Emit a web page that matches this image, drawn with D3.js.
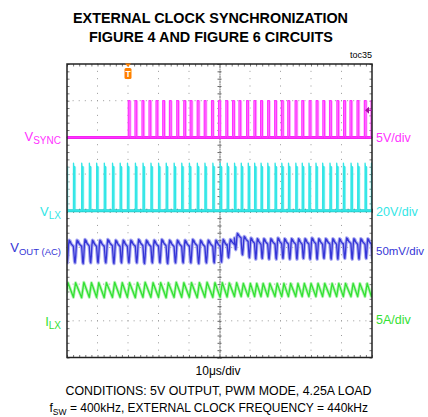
<!DOCTYPE html>
<html>
<head>
<meta charset="utf-8">
<script src="https://cdn.jsdelivr.net/npm/d3@7"></script>
<style>
body { margin: 0; background: #fff; }
text { font-family: "Liberation Sans", Arial, sans-serif; }
</style>
</head>
<body>
<script>
var w = 428
var h = 417

// ---- data ----
var labelMain = ["V", "V", "V", "I"]
var labelSub = ["SYNC", "LX", "OUT (AC)", "LX"]
var scaleLabels = ["5V/div", "20V/div", "50mV/div", "5A/div"]
var perDiv = [5, 20, 50, 5]          // V, V, mV, A per division
var zeroDiv = [2, 0, -1, -3]         // channel ground marker, in divisions
var timeLabel = "10\u03bcs/div"
var trigTime = 20                    // us
var trigLevel = 3.7                  // V on VSYNC

// sync clock rising edges (us), 440kHz
var syncRise = [20.1, 22.3, 24.6, 26.9, 29.2, 31.4, 33.6, 36.0, 38.3, 40.4, 42.7, 45.0,
    47.4, 49.7, 52.1, 54.3, 56.4, 58.9, 61.3, 63.5, 65.8, 68.1, 70.3, 72.4, 74.8, 77.0,
    79.4, 81.7, 83.9, 86.1, 88.5, 90.7, 92.8, 95.1, 97.5, 99.7]
var syncWidth = 0.55
var syncJitter = 0.5
var syncHigh = 5

// LX switching rising edges (us), 400kHz free running then locked to 440kHz
var lxRise = [-0.4, 2.1, 4.8, 7.3, 9.7, 12.2, 14.9, 17.4, 19.8, 22.4, 24.9, 27.5, 30.0,
    32.5, 35.1, 37.6, 40.1, 42.7, 45.2, 47.8, 50.2, 52.5, 54.9, 57.1, 59.4, 61.5, 63.6,
    65.8, 68.2, 70.4, 72.6, 75.0, 77.1, 79.3, 81.6, 83.8, 86.2, 88.4, 90.6, 93.1, 95.3,
    97.7, 99.8]
var lxOn = 0.45
var lxJitter = 0.45
var lxHigh = 24
var lxPeak = 26

// output ripple per switching cycle (mV)
var voutPeak = [10, 10, 11, 10, 10, 11, 10, 10, 10, 11, 10, 10, 11, 10, 10, 10, 11, 10, 10, 10,
    11, 11, 19, 15, 13, 12, 12, 12, 13, 12, 12, 12, 12, 13, 12, 12, 12, 12, 13, 12, 12, 12, 12]
var voutDip = [-21, -21, -22, -21, -21, -21, -22, -21, -21, -21, -22, -21, -21, -22, -21, -21,
    -21, -22, -21, -21, -20, -14, -3, -10, -14, -16, -15, -16, -16, -15, -16, -16, -15, -16,
    -16, -15, -16, -16, -15, -16, -16, -15, -16]
// ripple shape within a cycle: phase and level (0 = dip, 1 = peak)
var ripplePhase = [0, 0.06, 0.14, 0.2, 0.28, 0.36, 0.44, 0.5, 0.56, 0.7, 0.85, 1]
var rippleLevel = [0.72, 0.45, 0.06, 0, 0.3, 0.78, 1, 0.88, 0.96, 0.84, 0.78, 0.72]

// inductor current per cycle (A)
var ilxMin = [3.2, 3.2, 3.15, 3.2, 3.2, 3.15, 3.2, 3.2, 3.2, 3.15, 3.2, 3.2, 3.2, 3.15, 3.2,
    3.2, 3.2, 3.15, 3.2, 3.2, 3.2, 3.25, 3.3, 3.3, 3.3, 3.3, 3.3, 3.3, 3.3, 3.3, 3.3, 3.3,
    3.3, 3.3, 3.3, 3.3, 3.3, 3.3, 3.3, 3.3, 3.3, 3.3, 3.3]
var ilxMax = [5.2, 5.2, 5.25, 5.2, 5.2, 5.2, 5.25, 5.2, 5.2, 5.2, 5.25, 5.2, 5.2, 5.2, 5.25,
    5.2, 5.2, 5.2, 5.25, 5.2, 5.2, 5.15, 5.2, 5.1, 5.1, 5.1, 5.1, 5.1, 5.1, 5.1, 5.1, 5.1,
    5.1, 5.1, 5.1, 5.1, 5.1, 5.1, 5.1, 5.1, 5.1, 5.1, 5.1]

var colors = ["#ff33ff", "#33e6e6", "#3535d6", "#33e033"]
var lightColors = ["#ffbcff", "#b4f8f8", "#aaaaf2", "#b0f5b0"]
var baseColors = ["#f020f0", "#20cccc"]

var svg = d3.select("body")
    .append("svg")
    .attr("width", w)
    .attr("height", h)

var x = d3.scaleLinear().domain([0, 100]).range([67, 372])
var y = d3.scaleLinear().domain([-4, 4]).range([357.5, 64])

function chY(ch, v) { return y(zeroDiv[ch] + v / perDiv[ch]) }

// ---- titles ----
svg.append("text").attr("x", 210.5).attr("y", 23.3).attr("text-anchor", "middle")
    .style("font-size", "15px").style("font-weight", "bold")
    .attr("textLength", 275).attr("lengthAdjust", "spacingAndGlyphs")
    .text("EXTERNAL CLOCK SYNCHRONIZATION")
svg.append("text").attr("x", 211).attr("y", 41.5).attr("text-anchor", "middle")
    .style("font-size", "15px").style("font-weight", "bold")
    .attr("textLength", 244).attr("lengthAdjust", "spacingAndGlyphs")
    .text("FIGURE 4 AND FIGURE 6 CIRCUITS")
svg.append("text").attr("x", 372).attr("y", 58).attr("text-anchor", "end")
    .style("font-size", "9px").text("toc35")

// ---- graticule ----
var grid = svg.append("g")
var xMajor = d3.range(1, 10).map(function (d) { return d * 10 })
var yMajor = d3.range(-3, 4)
var xMinor = d3.range(0, 101, 2)
var yMinor = d3.range(-20, 21).map(function (d) { return d / 5 })

xMajor.forEach(function (t) {
    if (t == 50) return
    grid.selectAll(null).data(yMinor).enter().append("rect")
        .attr("x", x(t) - 0.5).attr("y", function (d) { return y(d) - 0.5 })
        .attr("width", 1).attr("height", 1).attr("fill", "#999")
})
yMajor.forEach(function (v) {
    if (v == 0) return
    grid.selectAll(null).data(xMinor).enter().append("rect")
        .attr("x", function (d) { return x(d) - 0.5 }).attr("y", y(v) - 0.5)
        .attr("width", 1).attr("height", 1).attr("fill", "#999")
})

// center cross with fine ticks
function styleAxis(g) {
    g.select(".domain").attr("stroke", "#666").attr("stroke-dasharray", "1,1.5")
    g.selectAll(".tick line").attr("stroke", "#666")
    g.selectAll("text").remove()
}
var tickV = d3.range(-4, 4.01, 0.2)
var tickT = d3.range(0, 100.1, 2)
svg.append("g").attr("transform", "translate(" + x(50) + ",0)")
    .call(d3.axisLeft(y).tickValues(tickV).tickSize(2).tickFormat("")).call(styleAxis)
svg.append("g").attr("transform", "translate(" + x(50) + ",0)")
    .call(d3.axisRight(y).tickValues(tickV).tickSize(2).tickFormat("")).call(styleAxis)
svg.append("g").attr("transform", "translate(0," + y(0) + ")")
    .call(d3.axisTop(x).tickValues(tickT).tickSize(2).tickFormat("")).call(styleAxis)
svg.append("g").attr("transform", "translate(0," + y(0) + ")")
    .call(d3.axisBottom(x).tickValues(tickT).tickSize(2).tickFormat("")).call(styleAxis)

// frame edge ticks
function edgeAxis(g) {
    g.select(".domain").remove()
    g.selectAll(".tick line").attr("stroke", "#777")
}
svg.append("g").attr("transform", "translate(0," + y(-4) + ")")
    .call(d3.axisTop(x).tickValues(tickT).tickSize(2.5).tickFormat("")).call(edgeAxis)
svg.append("g").attr("transform", "translate(0," + y(4) + ")")
    .call(d3.axisBottom(x).tickValues(tickT).tickSize(2.5).tickFormat("")).call(edgeAxis)
svg.append("g").attr("transform", "translate(" + x(0) + ",0)")
    .call(d3.axisRight(y).tickValues(tickV).tickSize(2.5).tickFormat("")).call(edgeAxis)
svg.append("g").attr("transform", "translate(" + x(100) + ",0)")
    .call(d3.axisLeft(y).tickValues(tickV).tickSize(2.5).tickFormat("")).call(edgeAxis)

// ---- traces ----
svg.append("clipPath").attr("id", "clip").append("rect")
    .attr("x", x(0)).attr("y", y(4)).attr("width", x(100) - x(0)).attr("height", y(-4) - y(4))
var traces = svg.append("g").attr("clip-path", "url(#clip)")

var syncPts = [[0, 0]]
syncRise.forEach(function (t) {
    syncPts.push([t, 0], [t, syncHigh], [t + syncWidth, syncHigh], [t + syncWidth, 0])
})
syncPts.push([100, 0])

var lxPts = [[-1, 0]]
lxRise.forEach(function (t) {
    lxPts.push([t, 0], [t + 0.03, lxPeak], [t + 0.15, lxHigh], [t + lxOn, lxHigh], [t + lxOn, 0])
})
lxPts.push([101, 0])

var voutPts = []
var ilxPts = []
lxRise.forEach(function (t, i) {
    var period = i < lxRise.length - 1 ? lxRise[i + 1] - t : t - lxRise[i - 1]
    ripplePhase.forEach(function (p, k) {
        voutPts.push([t + p * period, voutDip[i] + rippleLevel[k] * (voutPeak[i] - voutDip[i])])
    })
    ilxPts.push([t, ilxMin[i]], [t + lxOn + lxJitter * 0.6, ilxMax[i]])
})
ilxPts.push([101, ilxMin[ilxMin.length - 1]])

// persistence fill of jittering falling edges
traces.selectAll(".syncFill").data(syncRise).enter().append("rect")
    .attr("x", function (d) { return x(d) }).attr("y", chY(0, syncHigh))
    .attr("width", function (d) { return x(d + syncWidth + syncJitter) - x(d) })
    .attr("height", chY(0, 0) - chY(0, syncHigh))
    .attr("fill", lightColors[0])
traces.selectAll(".lxFill").data(lxRise).enter().append("rect")
    .attr("x", function (d) { return x(d) }).attr("y", chY(1, lxHigh))
    .attr("width", function (d) { return x(d + lxOn + lxJitter) - x(d) })
    .attr("height", chY(1, 0) - chY(1, lxHigh))
    .attr("fill", lightColors[1])

// noisy low level of the two logic-like traces
;[0, 1].forEach(function (ch) {
    traces.append("line").attr("x1", x(0)).attr("x2", x(100))
        .attr("y1", chY(ch, 0)).attr("y2", chY(ch, 0))
        .attr("stroke", baseColors[ch]).attr("stroke-width", 3)
})

var series = [syncPts, lxPts, voutPts, ilxPts]
var underWidth = [0, 0, 3.4, 3]
series.forEach(function (pts, ch) {
    var line = d3.line()
        .x(function (d) { return x(d[0]) })
        .y(function (d) { return chY(ch, d[1]) })
    if (underWidth[ch] > 0)
        traces.append("path").attr("d", line(pts)).attr("fill", "none")
            .attr("stroke", lightColors[ch]).attr("stroke-width", underWidth[ch]).attr("stroke-linejoin", "round")
    traces.append("path").attr("d", line(pts)).attr("fill", "none")
        .attr("stroke", colors[ch]).attr("stroke-width", 1.3).attr("stroke-linejoin", "round")
})

// frame
svg.append("rect").attr("x", x(0)).attr("y", y(4))
    .attr("width", x(100) - x(0)).attr("height", y(-4) - y(4))
    .attr("fill", "none").attr("stroke", "#222").attr("stroke-width", 1.5)

// trigger position marker
var tx = x(trigTime)
svg.append("path")
    .attr("d", "M" + (tx - 3) + "," + (y(4) - 0.5) + "L" + (tx + 3) + "," + (y(4) - 0.5) + "L" + tx + "," + (y(4) + 3) + "Z")
    .attr("fill", "#ff8000")
svg.append("rect").attr("x", tx - 3.5).attr("y", y(4) + 4).attr("width", 7).attr("height", 11)
    .attr("rx", 1.5).attr("fill", "#ff8000")
svg.append("text").attr("x", tx).attr("y", y(4) + 13).attr("text-anchor", "middle")
    .style("font-size", "8.5px").style("font-weight", "bold").attr("fill", "#fff").text("T")

// trigger level marker
var ty = chY(0, trigLevel)
svg.append("path")
    .attr("d", "M" + (x(100) - 7) + "," + ty + "L" + (x(100) - 3) + "," + (ty - 3.5) + "L" + (x(100) - 3) + "," + (ty + 3.5) + "Z")
    .attr("fill", "#a010a0")
svg.append("line").attr("x1", x(100) - 4).attr("x2", x(100)).attr("y1", ty).attr("y2", ty)
    .attr("stroke", "#a010a0").attr("stroke-width", 1.2)

// ---- channel labels ----
var leftShift = [4, 5, 4.5, 5]
var rightShift = [5, 5, 8, 3]
var subSize = [10, 10, 9.5, 10]
var rightSize = [12.5, 12.5, 11.5, 12.5]
labelMain.forEach(function (m, ch) {
    var t = svg.append("text").attr("x", 61).attr("y", y(zeroDiv[ch]) + leftShift[ch])
        .attr("text-anchor", "end").attr("fill", colors[ch]).style("font-size", "13px")
    t.append("tspan").text(m)
    t.append("tspan").attr("dy", 3).style("font-size", subSize[ch] + "px").text(labelSub[ch])
    svg.append("text").attr("x", 376).attr("y", y(zeroDiv[ch]) + rightShift[ch])
        .attr("fill", colors[ch]).style("font-size", rightSize[ch] + "px")
        .text(scaleLabels[ch])
})

// ---- bottom text ----
svg.append("text").attr("x", 218).attr("y", 375).attr("text-anchor", "middle")
    .style("font-size", "12px").text(timeLabel)
svg.append("text").attr("x", 218.5).attr("y", 395).attr("text-anchor", "middle")
    .style("font-size", "12px").attr("textLength", 306).attr("lengthAdjust", "spacingAndGlyphs")
    .text("CONDITIONS: 5V OUTPUT, PWM MODE, 4.25A LOAD")
var f = svg.append("text").attr("x", 49.5).attr("y", 411.5).style("font-size", "12px")
f.append("tspan").text("f")
f.append("tspan").attr("dy", 3).style("font-size", "8.5px").text("SW")
f.append("tspan").attr("dy", -3).text(" = 400kHz, EXTERNAL CLOCK FREQUENCY = 440kHz")
</script>
</body>
</html>
